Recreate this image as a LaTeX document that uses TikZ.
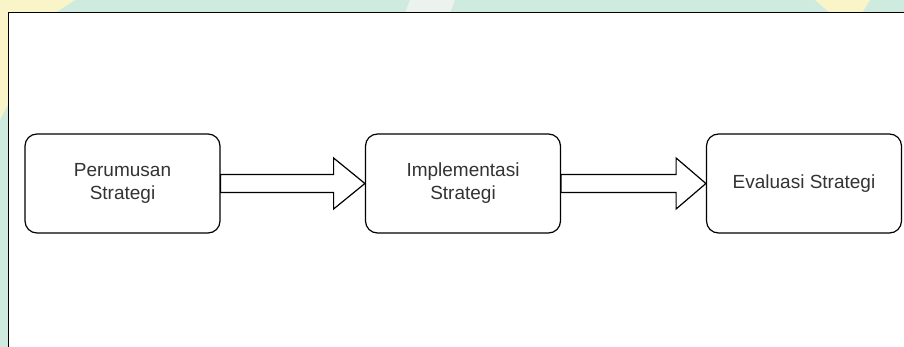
\documentclass[tikz,border=0pt]{standalone}
\usepackage{fontspec}
\setmainfont{Liberation Sans}
\usetikzlibrary{calc}
\definecolor{wmgreen}{RGB}{207,234,222}
\definecolor{wmyellow}{RGB}{250,245,200}
\definecolor{wmwhite}{RGB}{236,242,238}
\begin{document}
\begin{tikzpicture}[x=1pt,y=-1pt,
  stage/.style={draw, line width=1.2pt, rounded corners=12pt, minimum width=195pt,
    minimum height=99pt, align=center, inner sep=0pt,
    font=\fontsize{19}{23}\selectfont, text=black!80},
  bigarrow/.style={draw, line width=1.2pt, fill=white, line join=miter}]
\useasboundingbox (0,0) rectangle (904,347);
% watermark strips outside the frame
\fill[wmgreen] (0,0) rectangle (904,347);
\fill[wmyellow] (0,0) -- (75,0) -- (55,13) -- (0,120) -- cycle;
\fill[wmyellow] (815,0) -- (870,0) -- (862,13) -- (830,13) -- cycle;
\fill[wmwhite] (410,0) -- (455,0) -- (450,13) -- (405,13) -- cycle;
% frame
\fill[white] (8.5,12.7) rectangle (904,347);
\draw[line width=1.5pt] (8.5,347) -- (8.5,12.7) -- (904,12.7);
% stages
\node[stage] (a) at (122.5,183.5) {Perumusan\\Strategi};
\node[stage] (b) at (463,183.5) {Implementasi\\Strategi};
\node[stage] (c) at (804,183.5) {Evaluasi Strategi};
% block arrows
\draw[bigarrow] ($(a.east)+(0,-9)$) -- ($(a.east)+(113,-9)$) -- ($(a.east)+(113,-25.5)$)
  -- (b.west) -- ($(a.east)+(113,25.5)$) -- ($(a.east)+(113,9)$) -- ($(a.east)+(0,9)$) -- cycle;
\draw[bigarrow] ($(b.east)+(0,-9)$) -- ($(b.east)+(115,-9)$) -- ($(b.east)+(115,-25.5)$)
  -- (c.west) -- ($(b.east)+(115,25.5)$) -- ($(b.east)+(115,9)$) -- ($(b.east)+(0,9)$) -- cycle;
\end{tikzpicture}
\end{document}
